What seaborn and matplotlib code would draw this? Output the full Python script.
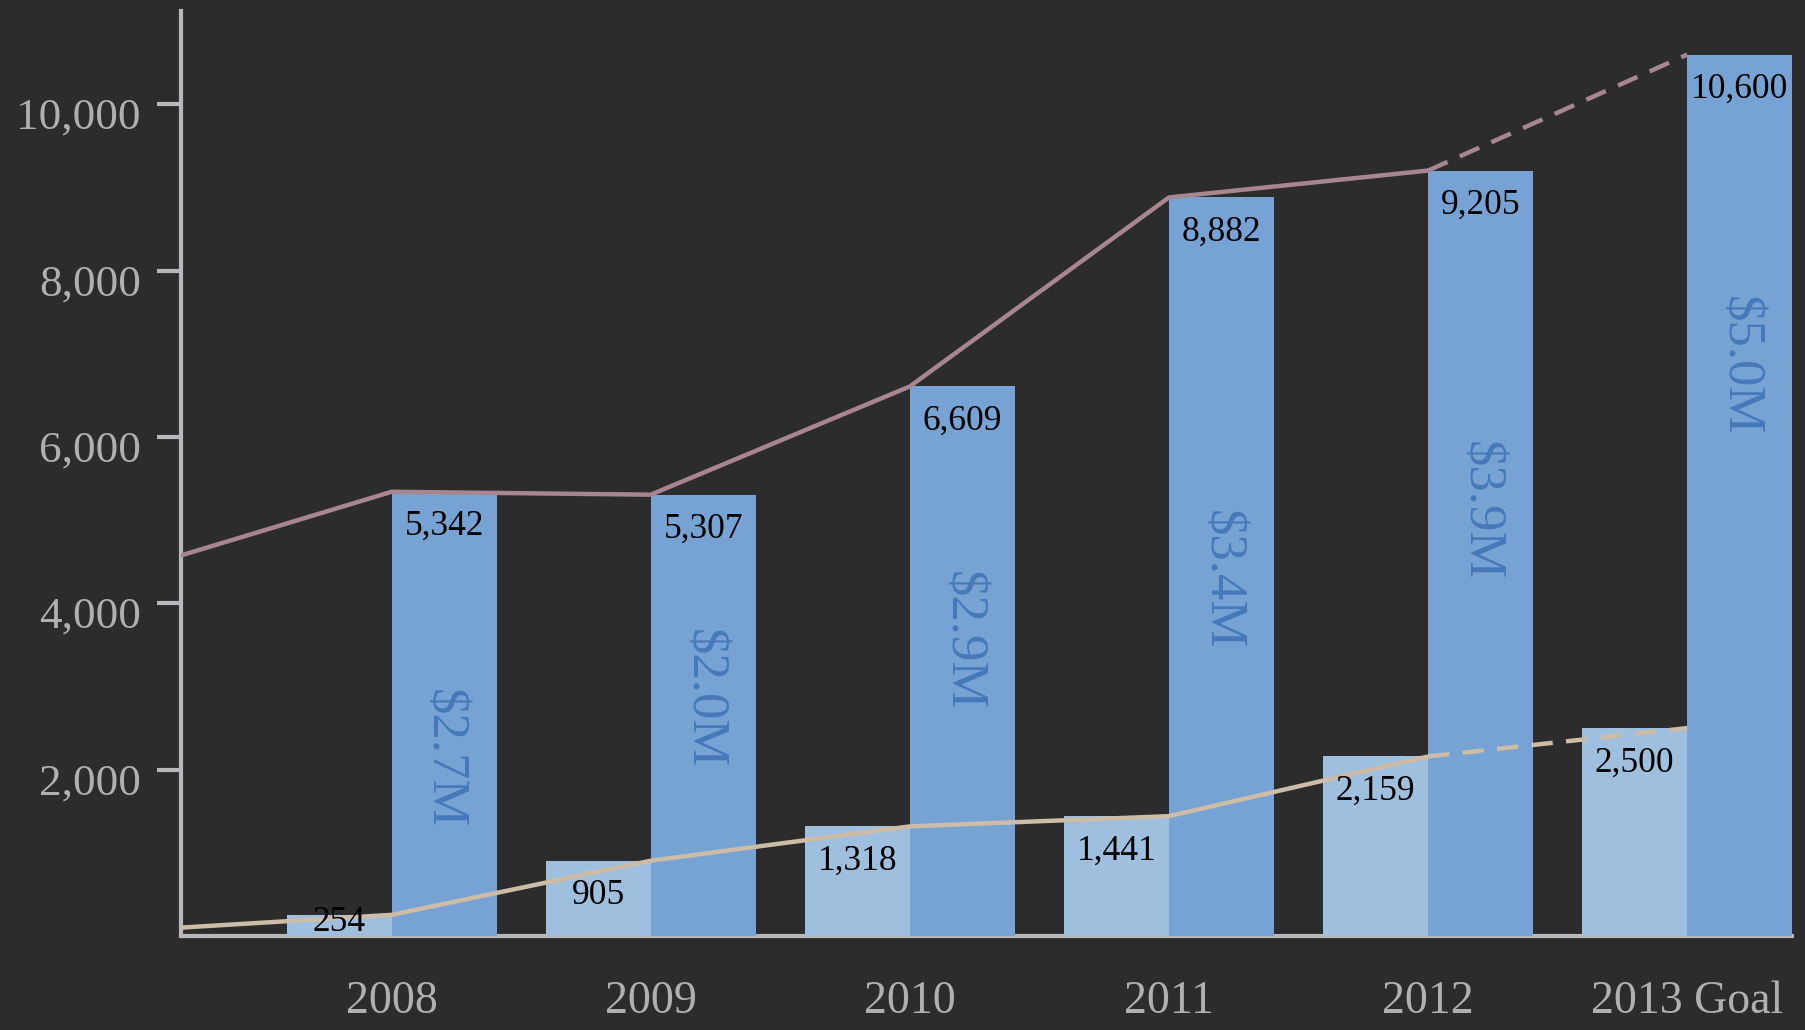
import numpy as np
import pandas as pd
import seaborn as sns
import matplotlib
matplotlib.use("Agg")
import matplotlib.pyplot as plt
import matplotlib.transforms as mtransforms

# --- data ---
years = ['2008', '2009', '2010', '2011', '2012', '2013 Goal']
small_vals = [254, 905, 1318, 1441, 2159, 2500]        # light bars / tan line
large_vals = [5342, 5307, 6609, 8882, 9205, 10600]     # dark bars / mauve line
money = ['$2.7M', '$2.0M', '$2.9M', '$3.4M', '$3.9M', '$5.0M']
money_y = [2130, 2850, 3550, 4290, 5110, 6860]         # where the $ labels sit
prev_small = 65      # line runs in from the left edge (prior year, estimated)
prev_large = 4400

BG = '#2c2c2c'
LIGHT = '#9fbfdf'
DARK = '#76a3d3'
MONEY = '#4679ba'
MAUVE = '#a88690'
TAN = '#cdbca6'
AXIS = '#b8b8bc'
TXT = '#b0b0b0'

sns.set_theme(style='white')
plt.rcParams['font.family'] = ['Liberation Serif', 'DejaVu Serif']

df = pd.DataFrame({
    'year': years * 2,
    'series': ['small'] * len(years) + ['large'] * len(years),
    'value': small_vals + large_vals,
})

fig = plt.figure(figsize=(18.06, 10.30), dpi=100, facecolor=BG)
ax = fig.add_axes([0.1002, 0.0913, 0.892, 0.8977])
ax.set_facecolor('none')

sns.barplot(data=df, x='year', y='value', hue='series', hue_order=['small', 'large'],
            palette=[LIGHT, DARK], width=0.81, dodge=True, saturation=1,
            linewidth=0, legend=False, ax=ax, zorder=2)

# trend lines through the bar tops (solid to 2012, dashed to the goal)
xs = np.arange(len(years))
for prev, vals, col in [(prev_large, large_vals, MAUVE), (prev_small, small_vals, TAN)]:
    ax.plot(np.r_[-1, xs[:-1]], [prev] + vals[:-1], color=col, lw=3.2, zorder=3,
            solid_capstyle='butt')
    ax.plot(xs[-2:], vals[-2:], color=col, lw=3.2, ls=(0, (4.8, 3.0)), zorder=3)

# value labels inside the bars
for cont in ax.containers:
    for p in cont.patches:
        v = p.get_height()
        cx = p.get_x() + p.get_width() / 2
        ax.text(cx, max(v - 420, 166), f'{int(round(v)):,}', ha='center', va='center',
                fontsize=25.5, color='black', zorder=4)

# rotated $ labels in the dark bars
dark_patches = ax.containers[1].patches
for p, lab, yy in zip(dark_patches, money, money_y):
    ax.text(p.get_x() + p.get_width() / 2, yy, lab, rotation=-90, ha='center', va='center',
            fontsize=38, color=MONEY, zorder=4)

ax.set_xlim(-0.813, 5.404)
ax.set_ylim(0, 11120)
ax.set_yticks([2000, 4000, 6000, 8000, 10000])
ax.set_yticklabels([f'{t:,}' for t in [2000, 4000, 6000, 8000, 10000]])
ax.set_xlabel('')
ax.set_ylabel('')

for s in ['top', 'right']:
    ax.spines[s].set_visible(False)
for s in ['left', 'bottom']:
    ax.spines[s].set_color(AXIS)
    ax.spines[s].set_linewidth(3)
    ax.spines[s].set_zorder(1)

ax.tick_params(axis='y', left=True, length=17, width=3, color=AXIS, direction='out',
               pad=12, labelsize=32.5, labelcolor=TXT)
ax.tick_params(axis='x', bottom=False, length=0, pad=32, labelsize=33, labelcolor=TXT)

# y labels sit a little below their tick marks
off = mtransforms.ScaledTranslation(0, -9 / 100, fig.dpi_scale_trans)
for lab in ax.get_yticklabels():
    lab.set_transform(lab.get_transform() + off)

ax.grid(False)
fig.savefig('out.png', dpi=100, facecolor=BG)
